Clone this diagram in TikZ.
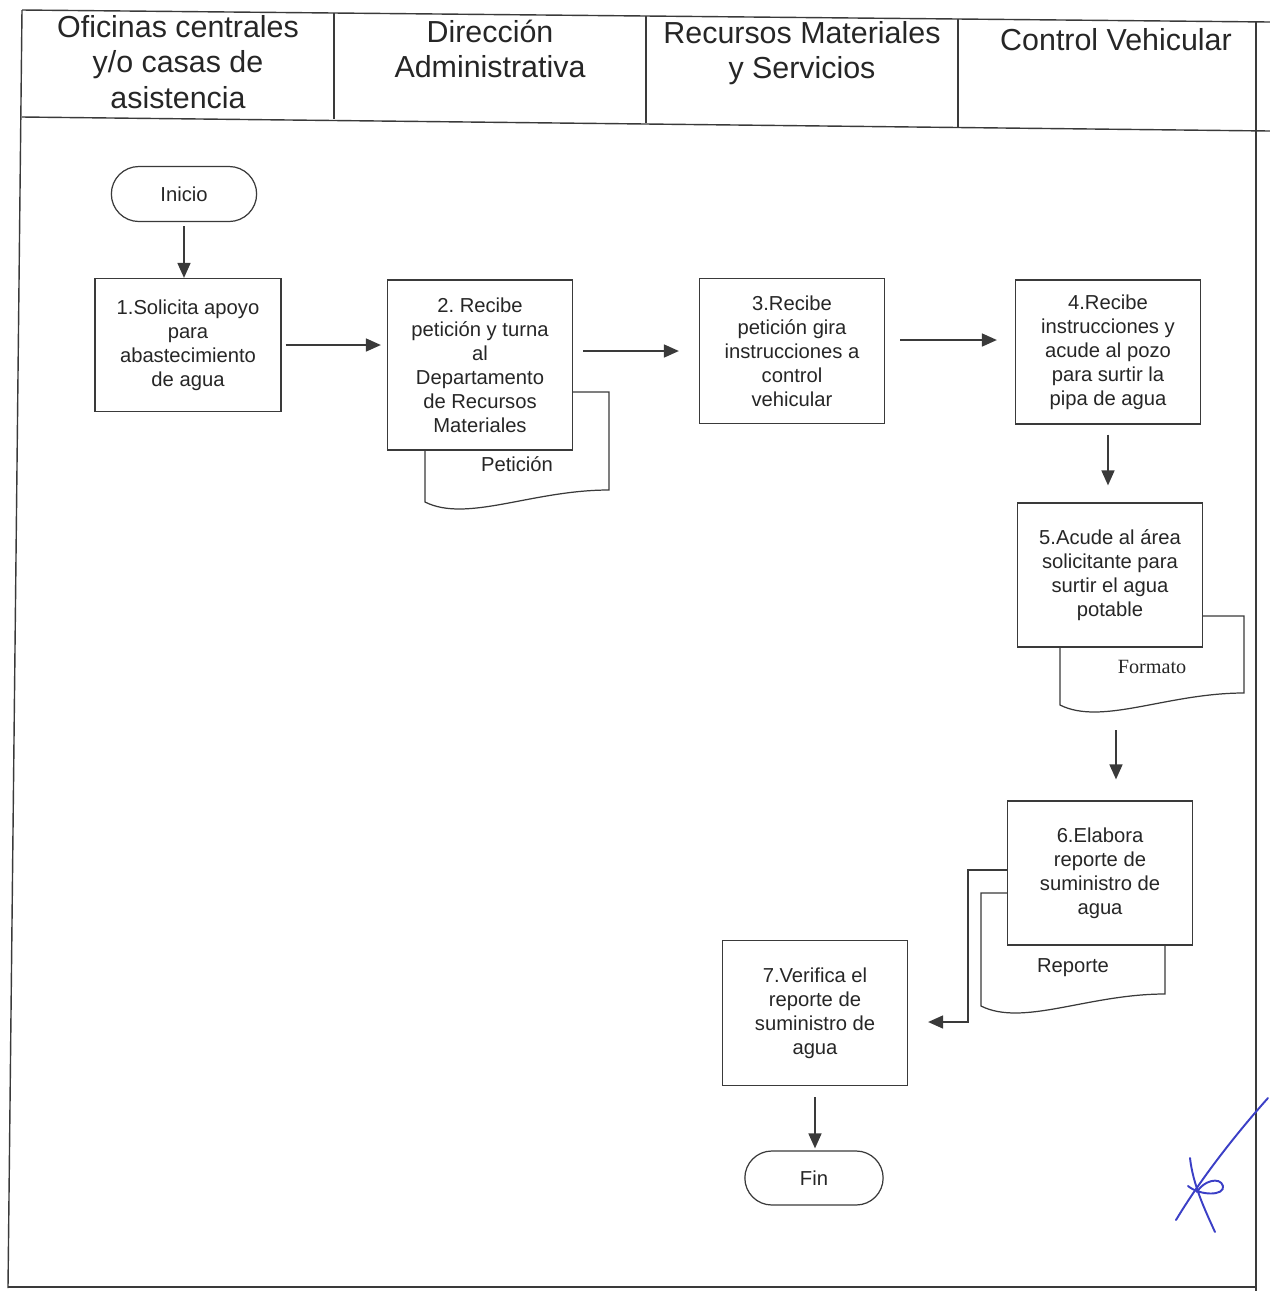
\documentclass[tikz,border=0pt]{standalone}
\usepackage{fontspec}
\setmainfont{Liberation Sans}
\newfontfamily\docserif{Liberation Serif}
\frenchspacing
\usetikzlibrary{arrows.meta,positioning,calc,shapes.misc,backgrounds}
\definecolor{FlowInk}{HTML}{262626}
\definecolor{FlowLine}{HTML}{3A3A3A}
\definecolor{SignBlue}{HTML}{3B3FC6}

% outline of a document symbol around its label node (#1), top edge at offset #2
\newcommand{\docout}[2]{%
  \begin{scope}[on background layer]
    \draw[docline] ($(#1)+(-1.84,#2)$) -- ($(#1)+(-1.84,-0.76)$)
      .. controls ($(#1)+(-1.0,-1.18)$) and ($(#1)+(0.3,-0.52)$) .. ($(#1)+(1.84,-0.52)$)
      -- ($(#1)+(1.84,#2)$) -- cycle;
  \end{scope}}

\begin{document}
\begin{tikzpicture}[
  x=1cm,y=1cm,
  flow/.style={
    -{Triangle[length=3.0mm,width=2.6mm]},
    line width=0.95pt,
    draw=FlowLine
  },
  frame/.style={
    line width=0.8pt,
    draw=FlowLine
  },
  lanehead/.style={
    align=center,
    font=\fontsize{17.3}{20}\selectfont,
    text=FlowInk
  },
  stepbox/.style={
    draw=FlowLine,
    line width=0.7pt,
    fill=white,
    align=center,
    minimum width=3.70cm,
    minimum height=2.88cm,
    inner sep=3pt,
    font=\fontsize{11.5}{13.7}\selectfont,
    text=FlowInk
  },
  terminal/.style={
    rounded rectangle,
    draw=FlowLine,
    line width=0.7pt,
    minimum height=1.10cm,
    font=\fontsize{11.5}{13.7}\selectfont,
    text=FlowInk
  },
  doclabel/.style={
    font=\fontsize{11.5}{13.7}\selectfont,
    text=FlowInk
  },
  docline/.style={
    draw=FlowLine,
    line width=0.7pt,
    fill=white
  },
  sign/.style={
    draw=SignBlue,
    line width=1.1pt,
    line cap=round
  }
]
\useasboundingbox (0,0) rectangle (25.40,-25.82);

% -------------------------------------------------
% Frame and lane headers
% -------------------------------------------------
\draw[frame] (0.44,-0.20) -- (25.40,-0.44);
\draw[frame] (0.44,-2.34) -- (25.40,-2.62);
\draw[frame] (0.44,-0.20) -- (0.16,-25.76);
\draw[frame] (0.16,-25.74) -- (25.12,-25.74);
\draw[frame] (25.12,-0.43) -- (25.12,-25.82);
\draw[frame] (6.68,-0.26) -- (6.68,-2.38);
\draw[frame] (12.92,-0.32) -- (12.92,-2.46);
\draw[frame] (19.16,-0.38) -- (19.16,-2.54);

\node[lanehead] (lane1) at (3.56,-1.24) {Oficinas centrales\\y/o casas de\\asistencia};
\node[lanehead] (lane2) at (9.80,-0.98) {Dirección\\Administrativa};
\node[lanehead] (lane3) at (16.04,-1.06) {Recursos Materiales\\y Servicios};
\node[lanehead] (lane4) at (22.32,-0.80) {Control Vehicular};

% -------------------------------------------------
% Steps
% -------------------------------------------------
\node[terminal, minimum width=3.14cm] (inicio) at (3.68,-3.88) {Inicio};

\node[stepbox, minimum height=2.66cm, minimum width=3.72cm] (s1) at (3.76,-6.90)
{1.Solicita apoyo\\para\\abastecimiento\\de agua};

\node[doclabel] (pet) at (10.34,-9.28) {Petición};
\docout{pet}{1.44}

\node[stepbox, minimum height=3.40cm] (s2) at (9.60,-7.30)
{2. Recibe\\petición y turna\\al\\Departamento\\de Recursos\\Materiales};

\node[stepbox, minimum height=2.90cm] (s3) at (15.84,-7.02)
{3.Recibe\\petición gira\\instrucciones a\\control\\vehicular};

\node[stepbox] (s4) at (22.16,-7.04)
{4.Recibe\\instrucciones y\\acude al pozo\\para surtir la\\pipa de agua};

\node[doclabel, font=\docserif\fontsize{11.5}{13.7}\selectfont] (fmt) at (23.04,-13.34) {Formato};
\docout{fmt}{1.02}
\coordinate (fmtfoot) at (22.32,-14.60);

\node[stepbox] (s5) at (22.20,-11.50)
{5.Acude al área\\solicitante para\\surtir el agua\\potable};

\node[doclabel] (rep) at (21.46,-19.36) {Reporte};
\docout{rep}{1.50}

\node[stepbox] (s6) at (22.00,-17.46)
{6.Elabora\\reporte de\\suministro de\\agua};

\node[stepbox, minimum height=2.90cm] (s7) at (16.30,-20.26)
{7.Verifica el\\reporte de\\suministro de\\agua};

\node[terminal, minimum width=3.00cm, minimum height=1.08cm] (fin) at (16.28,-23.56) {Fin};

% -------------------------------------------------
% Connectors
% -------------------------------------------------
\draw[flow, shorten <=0.08cm] (inicio.south) -- (inicio.south |- s1.north);
\draw[flow, shorten <=0.08cm, shorten >=0.12cm] (s1.east) -- (s1.east -| s2.west);
\draw[flow, shorten <=0.20cm, shorten >=0.40cm] (s2.east |- s3.west) -- (s3.west);
\draw[flow, shorten <=0.30cm, shorten >=0.36cm] ([yshift=0.22cm]s3.east) -- ([yshift=0.22cm]s3.east -| s4.west);
\draw[flow, shorten <=0.20cm, shorten >=0.34cm] (s4.south) -- (s4.south |- s5.north);
\draw[flow, shorten >=0.42cm] (fmtfoot) -- (fmtfoot |- s6.north);
\draw[flow, shorten >=0.40cm] ([yshift=0.06cm]s6.west) -- ++(-0.78,0) |- ([yshift=-0.18cm]s7.east);
\draw[flow, shorten <=0.22cm, shorten >=0.04cm] (s7.south) -- (s7.south |- fin.north);

% signature
\draw[sign] (25.36,-21.96) .. controls (24.70,-22.70) and (24.00,-23.60) .. (23.52,-24.40);
\draw[sign] (23.80,-23.16) .. controls (23.86,-23.70) and (24.10,-24.20) .. (24.30,-24.64);
\draw[sign] (23.76,-23.72) .. controls (24.00,-23.92) and (24.50,-23.92) .. (24.46,-23.72)
  .. controls (24.40,-23.52) and (24.06,-23.62) .. (23.94,-23.84);

\end{tikzpicture}
\end{document}
